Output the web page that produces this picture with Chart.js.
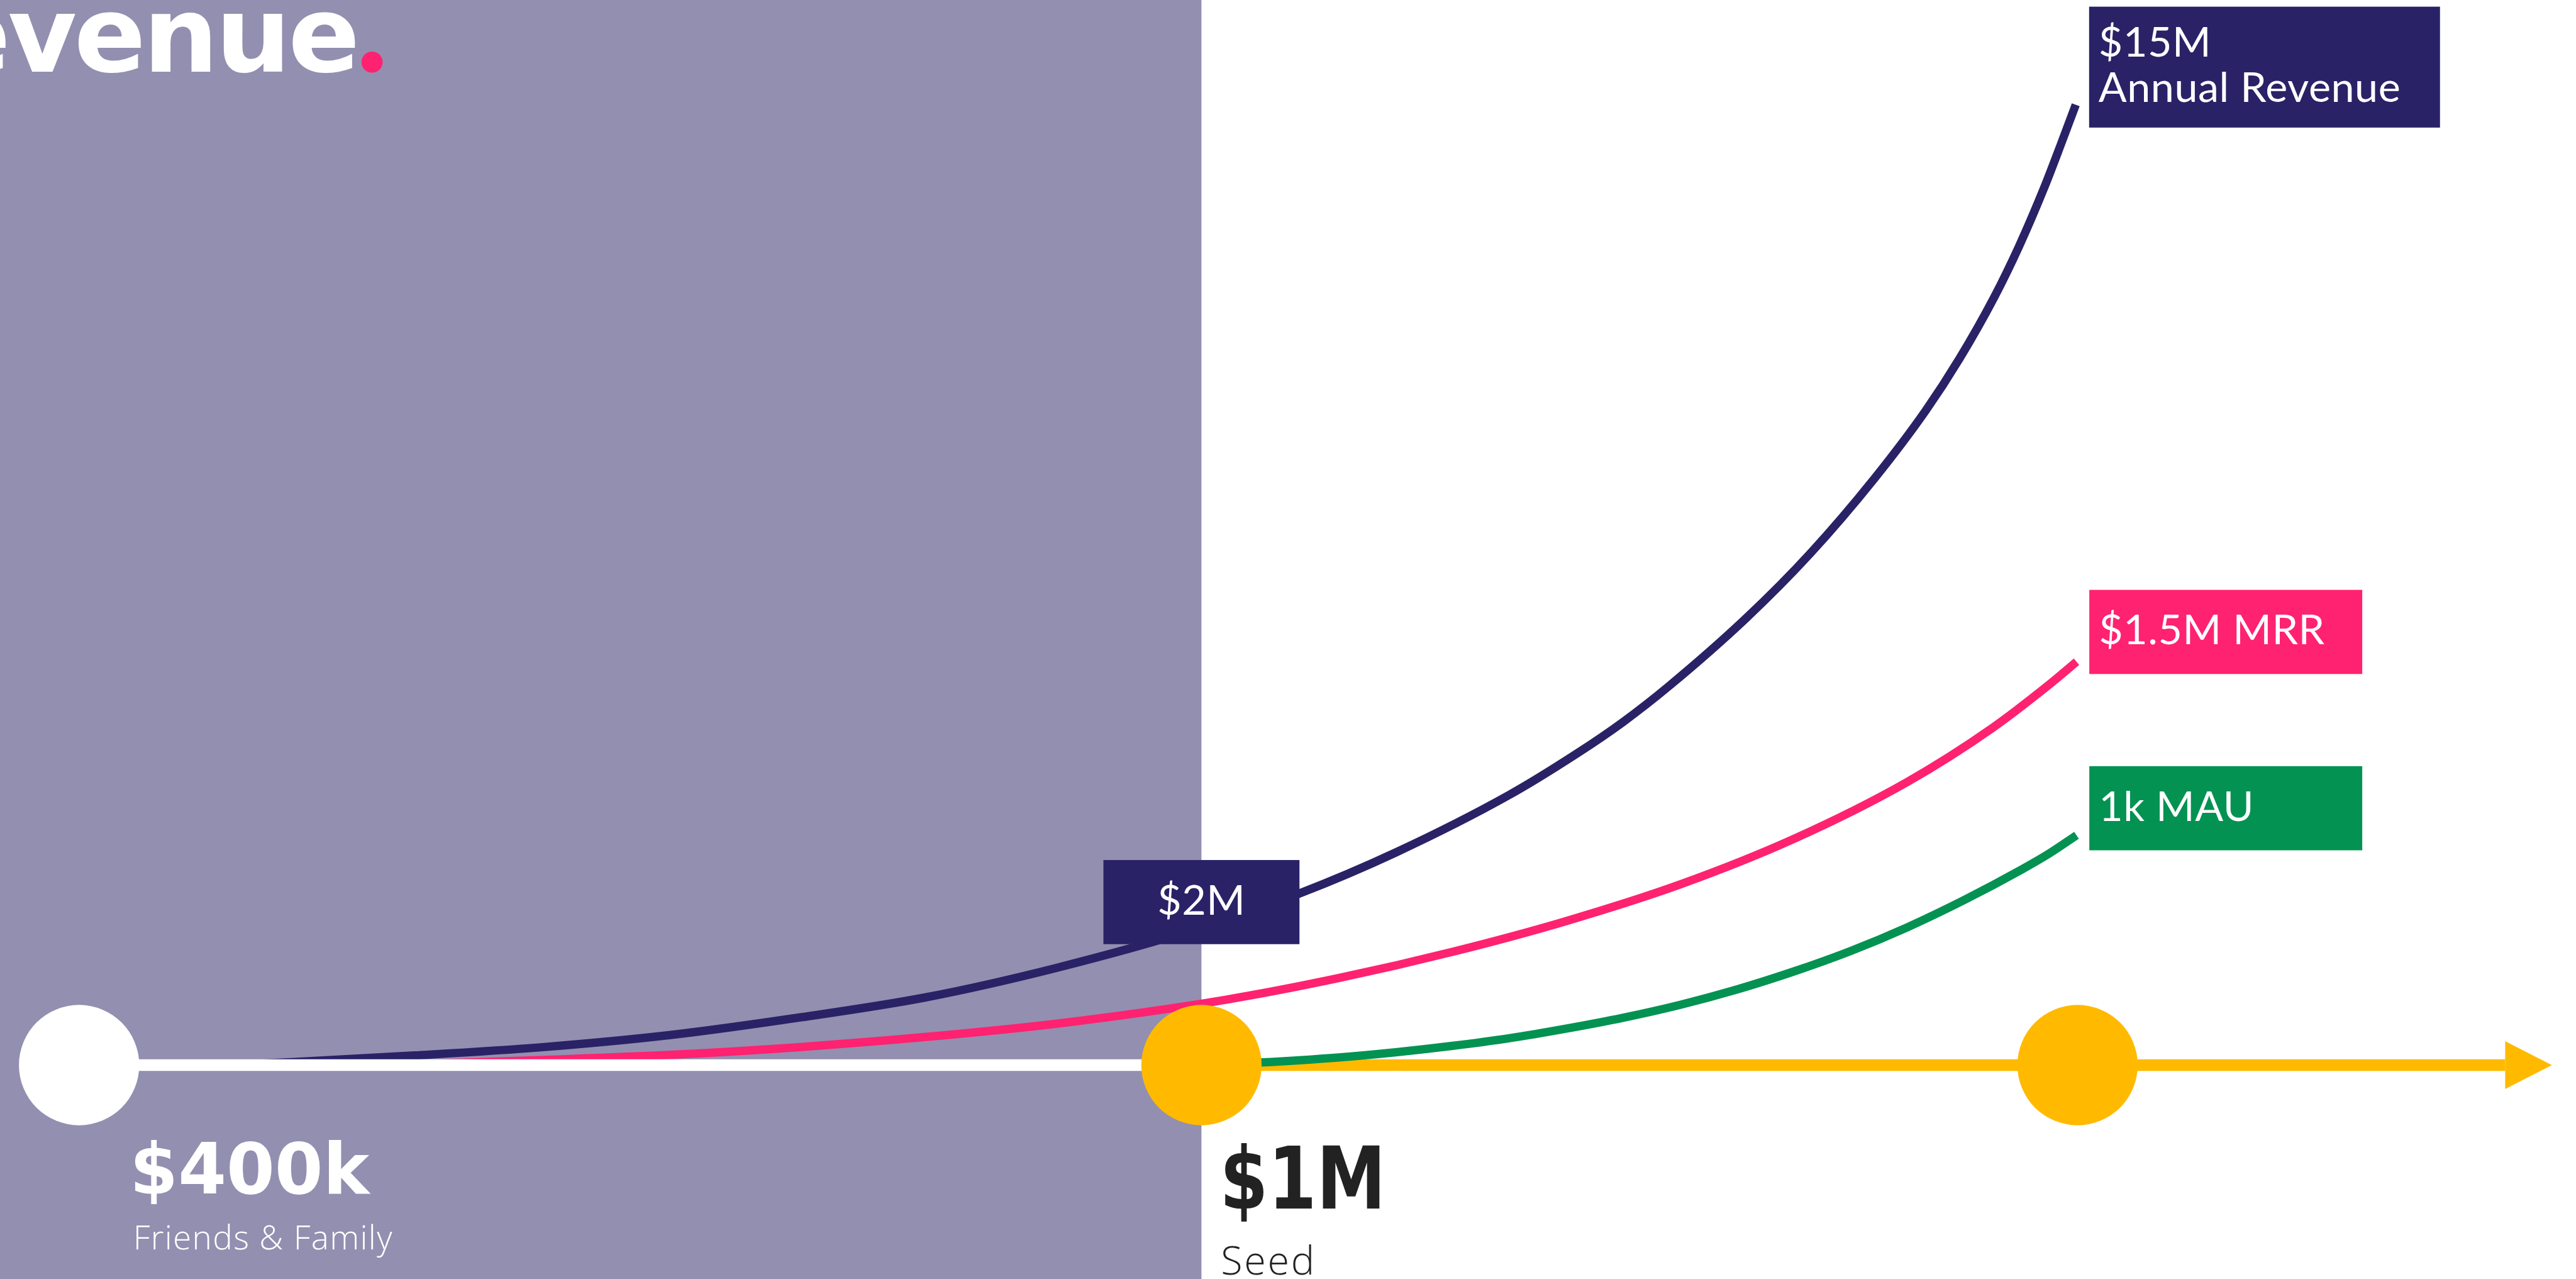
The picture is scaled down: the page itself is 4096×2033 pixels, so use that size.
<!DOCTYPE html>
<html>
<head>
<meta charset="utf-8">
<script src="https://cdn.jsdelivr.net/npm/chart.js@4.4.0/dist/chart.umd.min.js"></script>
<style>
html,body{margin:0;padding:0;background:#ffffff;overflow:hidden}
#wrap{position:relative;width:4096px;height:2033px}
</style>
</head>
<body>
<div id="wrap"><canvas id="c"></canvas></div>
<script>
// ---------------- DATA ----------------
const titleText = "Revenue";
const stageNames = ["Friends & Family", "Seed", ""];
const stageAmounts = ["$400k", "$1M", ""];
const stageX = [3.07, 46.64, 80.65];          // timeline position (% of width)
const timelineEndX = 97.25;                    // end of timeline (arrow base)

const revenueX = [9.08, 16.09, 21.06, 26.03, 30.98, 35.96, 40.93, 46.64, 50.44, 54.18, 58.59, 61.19, 63.01, 64.82, 67.81, 70.27, 72.76, 74.75, 76.06, 77.41, 78.38, 79.37, 80.04, 80.58];
const revenueY = [0.00, 0.15, 0.28, 0.47, 0.74, 1.06, 1.51, 2.15, 2.68, 3.32, 4.22, 4.86, 5.36, 5.93, 6.99, 7.99, 9.16, 10.22, 11.03, 11.99, 12.79, 13.72, 14.42, 15.00];

const mrrX = [15.14, 21.06, 26.03, 30.98, 35.96, 41.08, 47.57, 51.98, 56.39, 60.80, 65.21, 69.62, 74.03, 77.36, 79.57, 80.61];
const mrrY = [0.00, 0.08, 0.16, 0.28, 0.44, 0.65, 1.02, 1.36, 1.77, 2.25, 2.82, 3.53, 4.42, 5.27, 5.95, 6.30];

const mauX = [46.64, 48.89, 51.98, 54.18, 56.39, 58.59, 60.80, 63.01, 65.21, 67.42, 69.62, 71.83, 74.03, 76.26, 78.46, 79.57, 80.61];
const mauY = [0.00, 0.04, 0.12, 0.20, 0.30, 0.42, 0.57, 0.74, 0.94, 1.18, 1.46, 1.78, 2.15, 2.58, 3.05, 3.31, 3.59];

const revenueLabel = ["$15M", "Annual Revenue"];
const mrrLabel = ["$1.5M MRR"];
const mauLabel = ["1k MAU"];
const seedRevenueLabel = "$2M";

// ---------------- STYLE ----------------
const W = 4096;
const S = W / 4625;
const R = v => v * S;
const NAVY = "#2A2266", PINK = "#FF2270", GREEN = "#039252", YELLOW = "#FFBA00", PURPLE = "#938FB0", DARK = "#222222";
const xMin = 0, xMax = 100;
const yMin = -3.341, yMax = 16.636;
const pts = (xs, ys) => xs.map((x, i) => ({x: x, y: ys[i]}));

function drawBox(ctx, left, top, w, h, color, lines, offs, align) {
  ctx.fillStyle = color;
  ctx.fillRect(left, top, w, h);
  ctx.fillStyle = "#ffffff";
  ctx.font = `400 ${R(75)}px Lato`;
  ctx.letterSpacing = `${R(0.6)}px`;
  ctx.textBaseline = "alphabetic";
  ctx.textAlign = align || "left";
  lines.forEach((t, i) => {
    const tx = align === "center" ? left + w / 2 : left + R(17);
    ctx.fillText(t, tx, top + offs[i]);
  });
  ctx.letterSpacing = "0px";
}

const deco = {
  id: "deco",
  beforeDatasetsDraw(chart) {
    const {ctx, scales: {x, y}, height, width} = chart;
    ctx.save();
    ctx.fillStyle = "#ffffff";
    ctx.fillRect(0, 0, width, height);
    ctx.fillStyle = PURPLE;
    ctx.fillRect(0, 0, x.getPixelForValue(stageX[1]), height);
    // title
    ctx.font = `bold ${R(190)}px 'DejaVu Sans'`;
    ctx.letterSpacing = `${-R(5)}px`;
    ctx.fillStyle = "#ffffff";
    ctx.textAlign = "right";
    ctx.textBaseline = "alphabetic";
    const m = ctx.measureText(titleText);
    ctx.fillText(titleText, R(637) - m.actualBoundingBoxRight, R(129));
    ctx.letterSpacing = "0px";
    ctx.fillStyle = PINK;
    ctx.beginPath();
    ctx.arc(R(668), R(111.5), R(19), 0, Math.PI * 2);
    ctx.fill();
    ctx.restore();
  },
  afterDatasetsDraw(chart) {
    const {ctx, scales: {x, y}} = chart;
    ctx.save();
    // arrow head
    const bx = x.getPixelForValue(timelineEndX), by = y.getPixelForValue(0);
    ctx.fillStyle = YELLOW;
    ctx.beginPath();
    ctx.moveTo(bx, by - R(43));
    ctx.lineTo(bx + R(84), by);
    ctx.lineTo(bx, by + R(43));
    ctx.closePath();
    ctx.fill();

    // end labels
    let ex = x.getPixelForValue(revenueX[revenueX.length - 1]);
    let ey = y.getPixelForValue(revenueY[revenueY.length - 1]);
    drawBox(ctx, ex + R(24), ey - R(176), R(630), R(217), NAVY, revenueLabel, [R(90), R(171)]);
    ex = x.getPixelForValue(mrrX[mrrX.length - 1]);
    ey = y.getPixelForValue(mrrY[mrrY.length - 1]);
    drawBox(ctx, ex + R(23), ey - R(129), R(490), R(151), PINK, mrrLabel, [R(98)]);
    ex = x.getPixelForValue(mauX[mauX.length - 1]);
    ey = y.getPixelForValue(mauY[mauY.length - 1]);
    drawBox(ctx, ex + R(23), ey - R(124), R(490), R(151), GREEN, mauLabel, [R(98)]);

    // $2M label at seed
    const si = revenueX.indexOf(stageX[1]);
    const cx = x.getPixelForValue(stageX[1]);
    const cy = y.getPixelForValue(revenueY[si]);
    drawBox(ctx, cx - R(176), cy - R(121), R(352), R(151), NAVY, [seedRevenueLabel], [R(98)], "center");

    // stage labels
    const ty = y.getPixelForValue(0);
    ctx.textAlign = "left";
    ctx.textBaseline = "alphabetic";
    const p0 = x.getPixelForValue(stageX[0]);
    ctx.fillStyle = "#ffffff";
    ctx.font = `bold ${R(126)}px 'DejaVu Sans'`;
    ctx.fillText(stageAmounts[0], p0 + R(91), ty + R(230), R(430));
    ctx.font = `300 ${R(60)}px 'Open Sans'`;
    ctx.letterSpacing = `${R(1.5)}px`;
    ctx.fillText(stageNames[0], p0 + R(97), ty + R(331));
    ctx.letterSpacing = "0px";
    const p1 = x.getPixelForValue(stageX[1]);
    ctx.fillStyle = DARK;
    ctx.font = `bold ${R(154)}px 'DejaVu Sans'`;
    ctx.fillText(stageAmounts[1], p1 + R(33), ty + R(257), R(298));
    ctx.font = `300 ${R(71)}px 'Open Sans'`;
    ctx.letterSpacing = `${R(3)}px`;
    ctx.fillText(stageNames[1], p1 + R(35), ty + R(376));
    ctx.letterSpacing = "0px";
    ctx.restore();
  }
};

const lineW = R(15);
new Chart(document.getElementById("c"), {
  type: "line",
  data: {
    datasets: [
      { label: "Stages", data: stageX.map(v => ({x: v, y: 0})), showLine: false,
        pointRadius: R(108), pointHoverRadius: R(108), pointBorderWidth: 0,
        pointBackgroundColor: ["#ffffff", YELLOW, YELLOW], order: 1 },
      { label: "1k MAU", data: pts(mauX, mauY), borderColor: GREEN, borderWidth: lineW,
        pointRadius: 0, cubicInterpolationMode: "monotone", fill: false, order: 2 },
      { label: "Timeline after seed", data: [{x: stageX[1], y: 0}, {x: timelineEndX, y: 0}],
        borderColor: YELLOW, borderWidth: R(21), pointRadius: 0, tension: 0, order: 3 },
      { label: "Timeline before seed", data: [{x: stageX[0], y: 0}, {x: stageX[1], y: 0}],
        borderColor: "#ffffff", borderWidth: R(21), pointRadius: 0, tension: 0, order: 4 },
      { label: "$1.5M MRR", data: pts(mrrX, mrrY), borderColor: PINK, borderWidth: lineW,
        pointRadius: 0, cubicInterpolationMode: "monotone", fill: false, order: 5 },
      { label: "Annual Revenue", data: pts(revenueX, revenueY), borderColor: NAVY, borderWidth: lineW,
        pointRadius: 0, cubicInterpolationMode: "monotone", fill: false, order: 6 }
    ]
  },
  options: {
    responsive: true,
    maintainAspectRatio: false,
    animation: false,
    devicePixelRatio: 1,
    events: [],
    layout: { padding: 0, autoPadding: false },
    plugins: { legend: { display: false }, tooltip: { enabled: false }, title: { display: false } },
    scales: {
      x: { type: "linear", min: xMin, max: xMax, display: false },
      y: { type: "linear", min: yMin, max: yMax, display: false }
    }
  },
  plugins: [deco]
});
</script>
</body>
</html>
